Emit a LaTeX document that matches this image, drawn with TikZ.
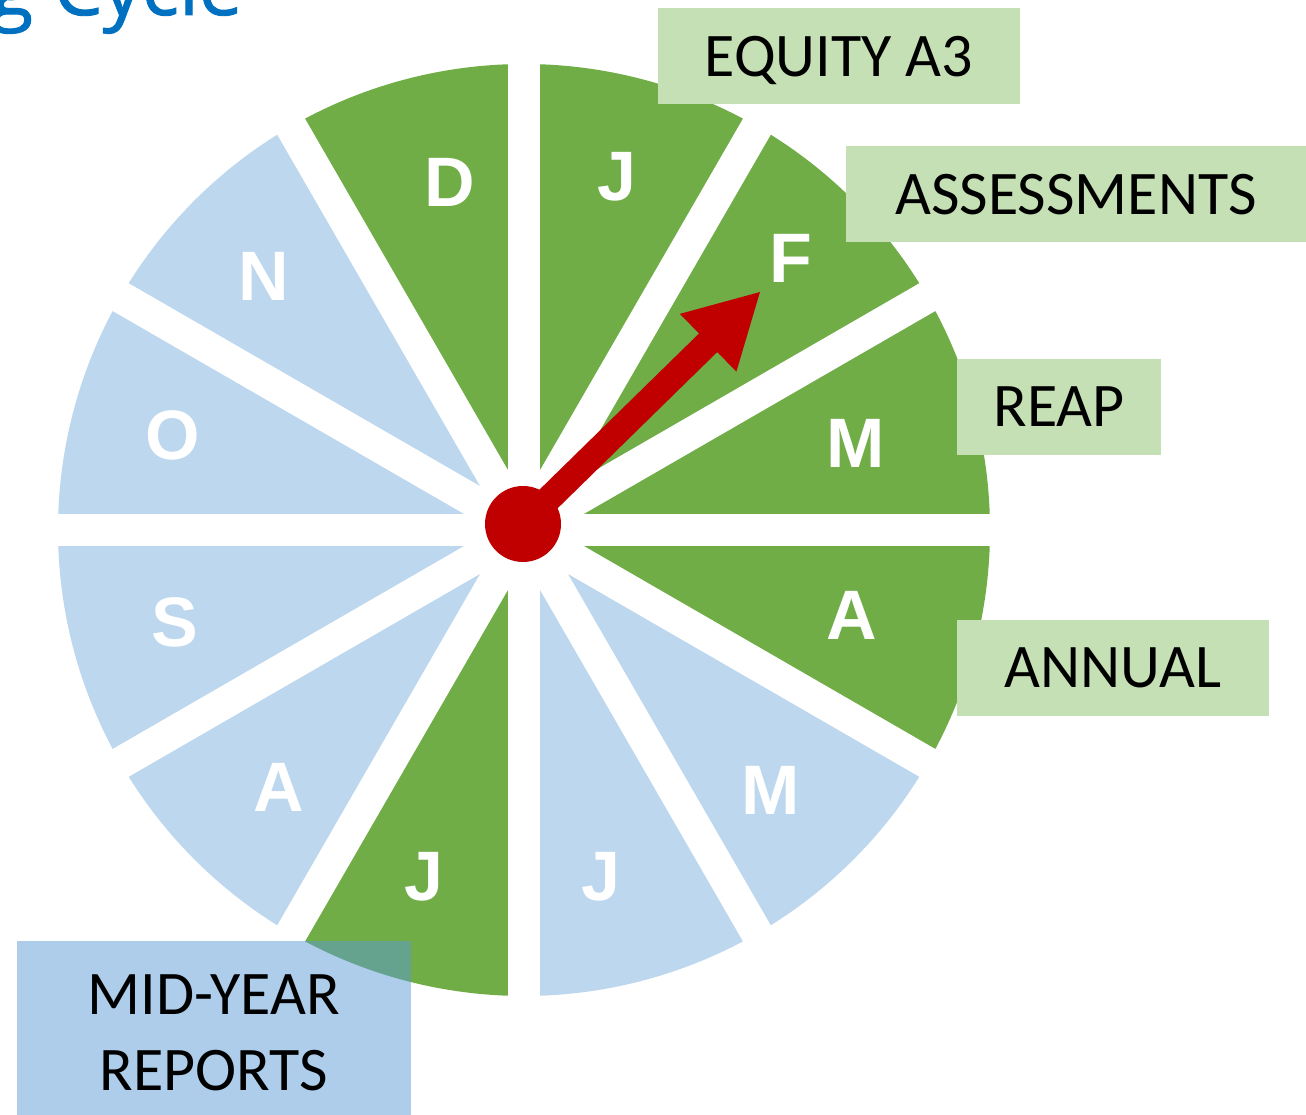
\documentclass[tikz,border=0pt]{standalone}
\usepackage{fontspec}
\setmainfont{Carlito}
\newfontfamily\monthfont{Liberation Sans}
\newfontfamily\titlefont[FakeBold=1.2]{Open Sans}
\usetikzlibrary{arrows.meta}
\definecolor{leafgreen}{HTML}{70AD47}
\definecolor{paleblue}{HTML}{BDD7EE}
\definecolor{palegreen}{HTML}{C5E0B4}
\definecolor{officeblue}{HTML}{5B9BD5}
\definecolor{handred}{HTML}{C00000}
\definecolor{titleblue}{HTML}{0070C0}
\tikzset{
  spoke/.style={
    white,
    line width=16pt
  },
  month/.style={
    text=white,
    inner sep=0pt,
    font=\monthfont\bfseries\fontsize{35}{35}\selectfont
  },
  tag/.style={
    fill=palegreen,
    inner sep=0pt,
    text depth=0pt,
    minimum height=48pt,
    font=\fontsize{31}{38}\selectfont
  },
  pointer/.style={
    handred,
    line width=13pt,
    -{Triangle[length=37pt,width=37.5pt]}
  }
}

\begin{document}
\begin{tikzpicture}[x=0.5pt, y=0.5pt]
  \useasboundingbox (0,0) rectangle (1306,1114);
  \coordinate (ring) at (524,584);

  % title, mostly above the page
  \node[anchor=base east, inner sep=0pt, text=titleblue,
    font=\titlefont\fontsize{39}{39}\selectfont] (title) at (243,1099) {g Cycle};

  % wheel of months
  \foreach \a/\c in {0/leafgreen, 30/leafgreen, 60/leafgreen, 90/leafgreen,
      120/paleblue, 150/paleblue, 180/paleblue, 210/paleblue,
      240/leafgreen, 270/paleblue, 300/paleblue, 330/leafgreen}
    \fill[\c] (ring) -- ++(\a:233pt) arc[start angle=\a, delta angle=30, radius=233pt] -- cycle;
  \foreach \a in {0,30,...,330}
    \draw[spoke] (ring) -- ++(\a:233.5pt);

  \foreach \m/\x/\y [count=\i] in {D/450/932, J/617/937, F/791/856, M/856/671,
      A/852/499, M/771/324, J/601/237, J/424/237, A/279/327, S/175/492,
      O/173/679, N/264/838}
    \node[month] (month\i) at (\x,\y) {\m};

  % hand
  \node[circle, fill=handred, minimum size=38pt, inner sep=0pt] (hub) at (523,590) {};
  \coordinate (tip) at (761,823);
  \draw[pointer] (hub.center) -- (tip);

  % events
  \node[tag, minimum width=181pt] (equity) at (839,1058) {EQUITY A3};
  \node[tag, minimum width=230pt] (assess) at (1076,920) {ASSESSMENTS};
  \node[tag, minimum width=102pt] (reap) at (1059,707) {REAP};
  \node[tag, minimum width=156pt] (annual) at (1113,446) {ANNUAL};
  \node[fill=officeblue, fill opacity=0.5, text opacity=1, inner sep=0pt,
    minimum width=197pt, minimum height=91.5pt, align=center,
    font=\fontsize{31}{38}\selectfont] (midyear) at (214,81.5) {MID-YEAR\\REPORTS};
\end{tikzpicture}
\end{document}
